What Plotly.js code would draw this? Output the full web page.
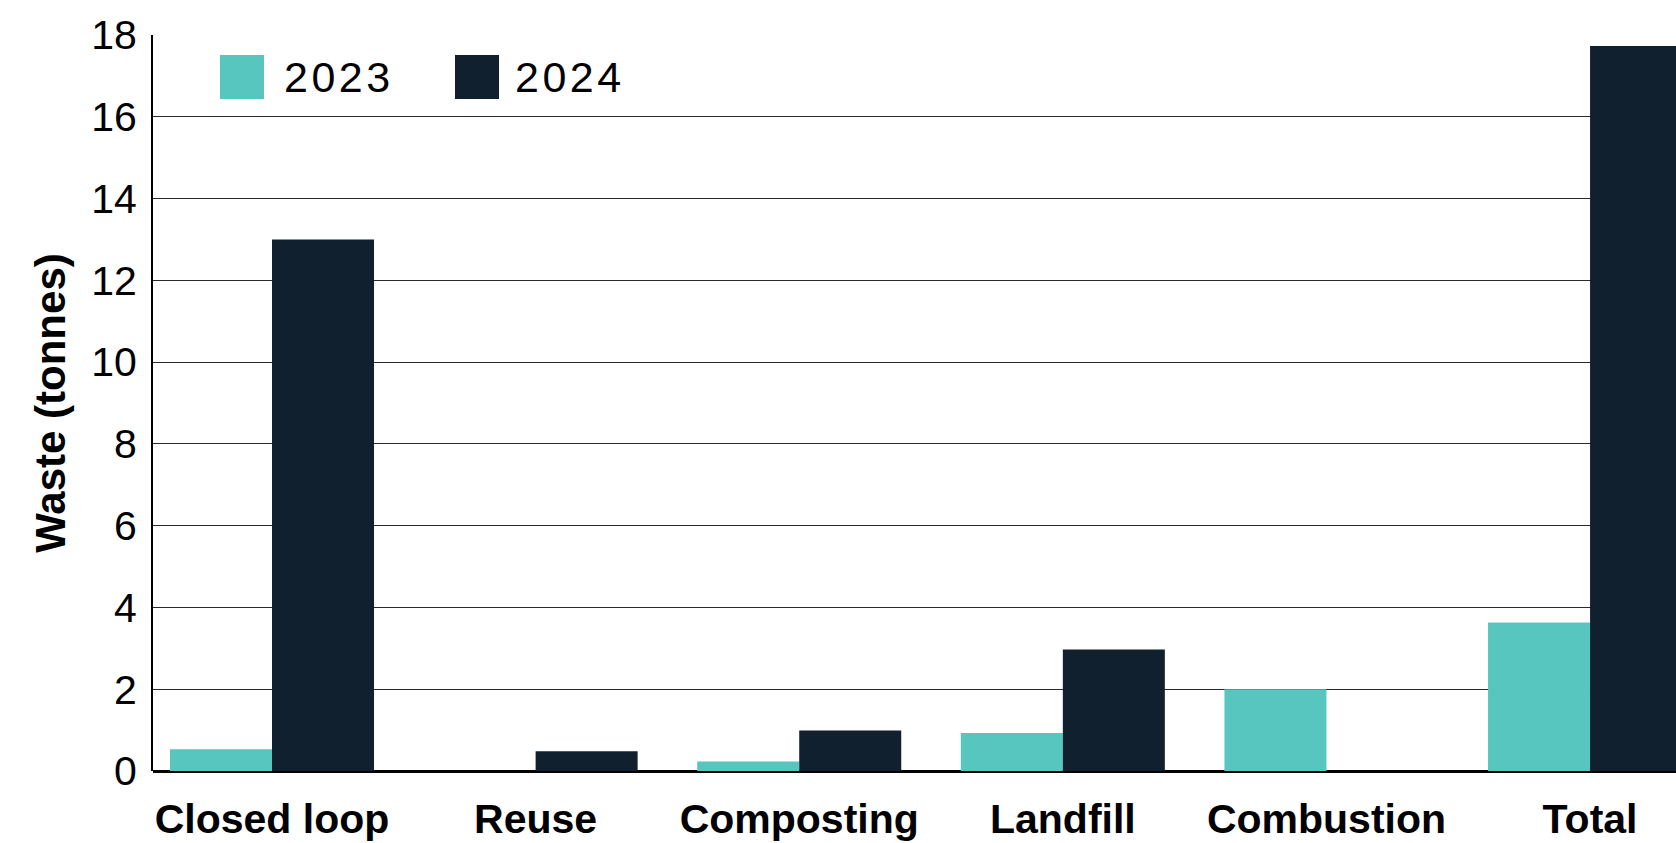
<!DOCTYPE html>
<html>
<head>
<meta charset="utf-8">
<script src="https://cdn.plot.ly/plotly-3.0.1.min.js"></script>
<style>
  html, body { margin: 0; padding: 0; background: #ffffff; overflow: hidden; }
  #chart { width: 1676px; height: 843px; }
  #chart .annotation-text { letter-spacing: 3.5px; }
</style>
</head>
<body>
<div id="chart"></div>
<script>
// ---- data ----
const categories = ["Closed loop", "Reuse", "Composting", "Landfill", "Combustion", "Total"];
const seriesNames = ["2023", "2024"];
const values2023 = [0.53, 0, 0.23, 0.93, 2.0, 3.63];
const values2024 = [13.0, 0.48, 0.99, 2.97, 0, 17.73];
const yTickValues = [0, 2, 4, 6, 8, 10, 12, 14, 16, 18];
const yTitle = "Waste (tonnes)";

// ---- styles ----
const colors = ["#56C6BF", "#10202E"];
const fontFamily = "'Liberation Sans', Arial, Helvetica, sans-serif";

const W = 1676, H = 843;
const margin = { l: 153, r: 0, t: 35, b: 72 };
const plotW = W - margin.l - margin.r;
const plotH = H - margin.t - margin.b;
const px2x = (px) => (px - margin.l) / plotW;
const px2y = (py) => 1 - (py - margin.t) / plotH;

const traces = [
  { type: "bar", name: seriesNames[0], x: categories, y: values2023,
    marker: { color: colors[0], line: { width: 0 } }, showlegend: false, hoverinfo: "x+y+name" },
  { type: "bar", name: seriesNames[1], x: categories, y: values2024,
    marker: { color: colors[1], line: { width: 0 } }, showlegend: false, hoverinfo: "x+y+name" }
];

// custom legend (large square swatches)
const legendItems = [
  { sx0: 220, sx1: 264, tx: 289 },
  { sx0: 455, sx1: 499, tx: 520 }
];
const legendCY = 77, sw = 22;
const shapes = [];
const annotations = [];
legendItems.forEach((it, i) => {
  shapes.push({
    type: "rect", xref: "paper", yref: "paper",
    x0: px2x(it.sx0), x1: px2x(it.sx1),
    y0: px2y(legendCY - sw), y1: px2y(legendCY + sw),
    fillcolor: colors[i], line: { width: 0 }, layer: "above"
  });
  annotations.push({
    xref: "paper", yref: "paper", x: px2x(it.tx), y: px2y(legendCY),
    xanchor: "left", yanchor: "middle", showarrow: false,
    text: seriesNames[i],
    font: { family: fontFamily, size: 43, color: "#000000" }
  });
});

const layout = {
  width: W, height: H,
  margin: margin,
  paper_bgcolor: "#ffffff", plot_bgcolor: "#ffffff",
  barmode: "group", bargap: 0.226, bargroupgap: 0,
  font: { family: fontFamily, color: "#000000" },
  xaxis: {
    type: "category",
    range: [-0.4514, 5.326],
    showgrid: false, zeroline: false,
    showline: false,
    ticks: "", ticklabelstandoff: 20,
    tickfont: { family: fontFamily, size: 41, color: "#000000", weight: "bold" },
    fixedrange: true
  },
  yaxis: {
    range: [0, 18],
    tickvals: yTickValues,
    ticktext: yTickValues.map(String),
    showgrid: true, gridcolor: "#2a2a2a", gridwidth: 1,
    zeroline: true, zerolinecolor: "#000000", zerolinewidth: 3,
    showline: true, linecolor: "#000000", linewidth: 2,
    ticks: "", ticklabelstandoff: 6,
    tickfont: { family: fontFamily, size: 41, color: "#000000" },
    title: { text: yTitle, standoff: 12,
             font: { family: fontFamily, size: 42, color: "#000000", weight: "bold" } },
    fixedrange: true
  },
  shapes: shapes,
  annotations: annotations
};

Plotly.newPlot("chart", traces, layout, { displayModeBar: false, staticPlot: true });
</script>
</body>
</html>
